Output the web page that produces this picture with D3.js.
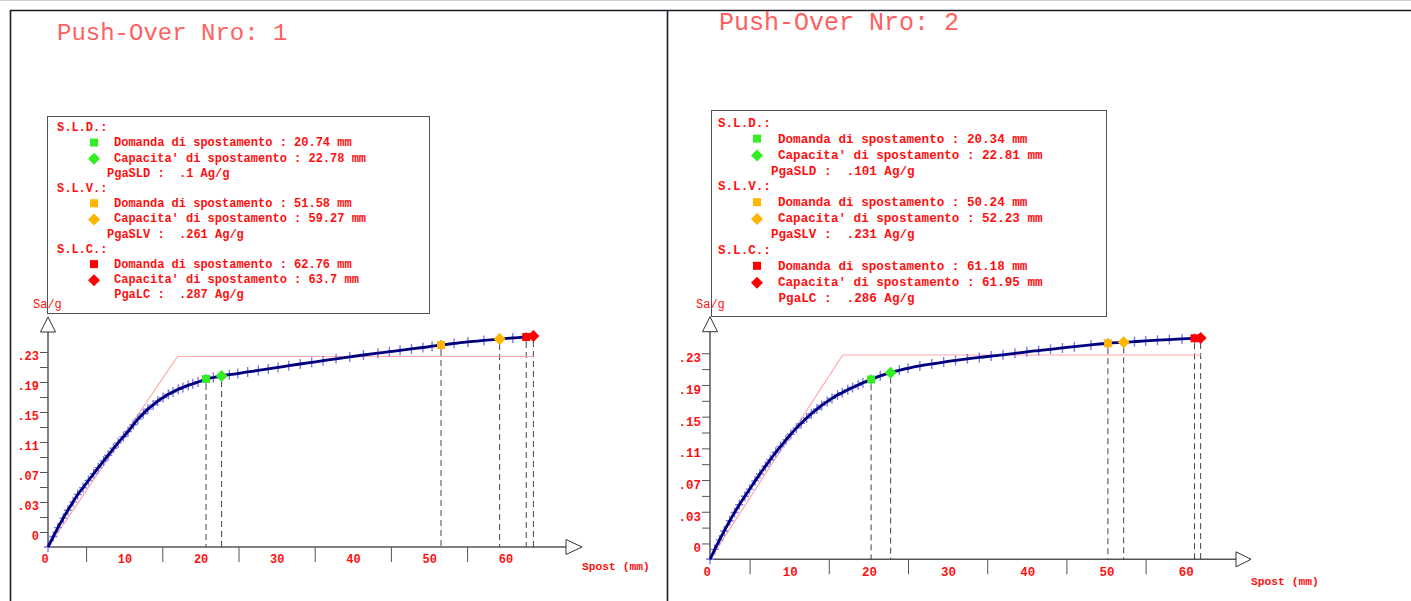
<!DOCTYPE html>
<html>
<head>
<meta charset="utf-8">
<script src="https://cdnjs.cloudflare.com/ajax/libs/d3/7.8.5/d3.min.js"></script>
<style>
body { margin: 0; background: #fff; }
svg text { font-family: "Liberation Mono", "DejaVu Sans Mono", monospace; white-space: pre; }
</style>
</head>
<body>
<script>
// ---- data ----
const titles = ["Push-Over Nro: 1", "Push-Over Nro: 2"];

// panel 1 curve (spostamento mm, Sa/g)
const spost1 = [0, 0.7, 1.3, 2.0, 2.6, 3.3, 3.9, 4.6, 5.3, 6.0, 6.6, 7.3, 7.9, 8.6, 9.2, 9.9, 10.5, 11.2, 11.8,
  12.5, 13.1, 13.8, 14.4, 15.1, 15.8, 16.4, 17.1, 17.7, 18.4, 19.0, 19.7, 20.74, 21.7, 22.78, 23.8, 24.9,
  26.2, 27.6, 28.9, 30.2, 31.6, 33.1, 34.6, 36.1, 37.8, 39.6, 41.4, 43.3, 44.8, 46.2, 47.7, 49.2, 50.4,
  51.58, 53.3, 55.1, 57.2, 59.27, 61.0, 62.76, 63.7];
const sa1 = [0, 0.0140, 0.0258, 0.0385, 0.0490, 0.0602, 0.0700, 0.0790, 0.0887, 0.0978, 0.1058, 0.1147,
  0.1224, 0.1316, 0.1388, 0.1470, 0.1540, 0.1630, 0.1705, 0.1777, 0.1838, 0.1895, 0.1945, 0.1992, 0.2036,
  0.2068, 0.2102, 0.2127, 0.2155, 0.2177, 0.2200, 0.2240, 0.2260, 0.2280, 0.2297, 0.2313, 0.2334, 0.2355,
  0.2375, 0.2395, 0.2417, 0.2440, 0.2462, 0.2484, 0.2509, 0.2535, 0.2560, 0.2585, 0.2604, 0.2622, 0.2641,
  0.2660, 0.2677, 0.2693, 0.2714, 0.2735, 0.2755, 0.2773, 0.2787, 0.2800, 0.2813];

// panel 2 curve
const spost2 = [0, 0.6, 1.2, 1.8, 2.5, 3.1, 3.7, 4.4, 5.0, 5.7, 6.3, 7.0, 7.6, 8.3, 8.9, 9.6, 10.2, 10.9,
  11.5, 12.2, 12.8, 13.5, 14.1, 14.8, 15.4, 16.1, 16.7, 17.4, 18.0, 18.7, 19.3, 20.34, 21.5, 22.81, 23.9,
  25.0, 26.5, 28.0, 29.5, 31.0, 32.5, 34.0, 35.5, 37.0, 38.5, 40.0, 41.5, 43.0, 44.5, 46.0, 48.1, 50.24,
  52.23, 53.6, 55.0, 56.5, 58.0, 59.6, 61.18, 61.95];
const sa2 = [0, 0.0125, 0.0245, 0.0358, 0.0487, 0.0590, 0.0688, 0.0796, 0.0885, 0.0990, 0.1077, 0.1175,
  0.1256, 0.1350, 0.1423, 0.1507, 0.1578, 0.1655, 0.1715, 0.1783, 0.1838, 0.1896, 0.1942, 0.1990, 0.2030,
  0.2073, 0.2103, 0.2140, 0.2168, 0.2200, 0.2227, 0.2270, 0.2315, 0.2355, 0.2385, 0.2410, 0.2440, 0.2465,
  0.2489, 0.2510, 0.2530, 0.2547, 0.2564, 0.2580, 0.2599, 0.2618, 0.2634, 0.2650, 0.2667, 0.2683, 0.2705,
  0.2726, 0.2738, 0.2747, 0.2756, 0.2765, 0.2773, 0.2781, 0.2789, 0.2792];

// equivalent bilinear
const bilinSpost1 = [0, 17.0, 63.7];
const bilinSa1 = [0, 0.254, 0.254];
const bilinSpost2 = [0, 16.75, 62.0];
const bilinSa2 = [0, 0.2578, 0.2578];

// limit states
const states = ["S.L.D.", "S.L.V.", "S.L.C."];
const pgaNames = ["PgaSLD", "PgaSLV", "PgaLC"];

const domanda1 = [20.74, 51.58, 62.76];
const domandaSa1 = [0.224, 0.2693, 0.2800];
const capacita1 = [22.78, 59.27, 63.7];
const capacitaSa1 = [0.228, 0.2773, 0.2813];
const pga1 = [".1", ".261", ".287"];

const domanda2 = [20.34, 50.24, 61.18];
const domandaSa2 = [0.227, 0.2726, 0.2789];
const capacita2 = [22.81, 52.23, 61.95];
const capacitaSa2 = [0.2355, 0.2738, 0.2792];
const pga2 = [".101", ".231", ".286"];

// axes
const xLabelTicks = [0, 10, 20, 30, 40, 50, 60];
const xMinorTicks = [5, 15, 25, 35, 45, 55];
const yTicks = [0.02, 0.04, 0.06, 0.08, 0.10, 0.12, 0.14, 0.16, 0.18, 0.20, 0.22, 0.24, 0.26];
const yLabelTicks = [0.02, 0.06, 0.10, 0.14, 0.18, 0.22, 0.26];
const yLabels = ["0", ".03", ".07", ".11", ".15", ".19", ".23"];

// ---- styling / layout ----
const stateColors = ["#33ee22", "#ffb400", "#ff0000"];
const RED = "#ff1010";

const layout1 = {ox: 48, oy: 547, kx: 7.62, ky: 750, yTop: 332, yTip: 317, xEnd: 566, xTip: 582,
  titleX: 57, titleY: 40, titleSize: 24, box: [47, 116, 429, 313],
  legX0: 57, legMark: 94, legText: 114, legPga: 107, legY0: 127.3, legDy: 15.2, legFont: 12,
  saX: 33, saY: 308, spostX: 582, spostY: 570, tickFont: 12, xLabY: 563, yLabDy: 8};
const layout2 = {ox: 710, oy: 559.3, kx: 7.92, ky: 792.5, yTop: 331.7, yTip: 316.7, xEnd: 1236, xTip: 1251,
  titleX: 719, titleY: 30, titleSize: 25, box: [711, 110, 1106, 316],
  legX0: 718, legMark: 757, legText: 778, legPga: 771, legY0: 122.7, legDy: 15.9, legFont: 12.6,
  saX: 696, saY: 308, spostX: 1251, spostY: 585, tickFont: 12.5, xLabY: 576, yLabDy: 9};

const W = 1411, H = 601;
const svg = d3.select("body").append("svg").attr("width", W).attr("height", H);

// outer frames
svg.append("line").attr("x1", 0).attr("x2", W).attr("y1", 0.5).attr("y2", 0.5)
  .attr("stroke", "#d0d0d0");
svg.append("path")
  .attr("d", `M10.5,${H} L10.5,10.5 L${W},10.5 M667.5,10.5 L667.5,${H}`)
  .attr("fill", "none").attr("stroke", "#1c1c28").attr("stroke-width", 1.6);

function diamond(r) { return `M0,${-r}L${r},0L0,${r}L${-r},0Z`; }

function drawPanel(L, title, spost, sa, bSpost, bSa, dom, domSa, cap, capSa, pga) {
  const g = svg.append("g");
  const x = d3.scaleLinear().domain([0, 70]).range([L.ox, L.ox + 70 * L.kx]);
  const y = d3.scaleLinear().domain([0, 0.3]).range([L.oy, L.oy - 0.3 * L.ky]);

  // title
  g.append("text").attr("x", L.titleX).attr("y", L.titleY)
    .attr("font-size", L.titleSize).attr("fill", "#ff6060").text(title);

  // legend box
  const [bx0, by0, bx1, by1] = L.box;
  g.append("rect").attr("x", bx0 + 0.5).attr("y", by0 + 0.5)
    .attr("width", bx1 - bx0).attr("height", by1 - by0)
    .attr("fill", "none").attr("stroke", "#505050");

  states.forEach((s, i) => {
    const rowY = k => L.legY0 + (i * 4 + k) * L.legDy;
    const tx = (xx, k, str) => g.append("text").attr("x", xx).attr("y", rowY(k) + L.legFont * 0.33)
      .attr("font-size", L.legFont).attr("font-weight", "bold").attr("fill", RED).text(str);
    tx(L.legX0, 0, s + ":");
    g.append("rect").attr("x", L.legMark - 4).attr("y", rowY(1) - 4)
      .attr("width", 8).attr("height", 8).attr("fill", stateColors[i]);
    tx(L.legText, 1, "Domanda di spostamento : " + dom[i] + " mm");
    g.append("path").attr("transform", `translate(${L.legMark},${rowY(2) + 1})`)
      .attr("d", diamond(6)).attr("fill", stateColors[i]);
    tx(L.legText, 2, "Capacita' di spostamento : " + cap[i] + " mm");
    tx(L.legPga, 3, pgaNames[i].padStart(6) + " :  " + pga[i] + " Ag/g");
  });

  // axes
  const axisCol = "#555";
  g.append("g").attr("transform", `translate(0,${L.oy})`)
    .call(d3.axisBottom(x).tickValues(xMinorTicks).tickSize(15).tickSizeOuter(0).tickFormat(""))
    .call(a => a.select(".domain").remove())
    .call(a => a.selectAll("line").attr("stroke", axisCol));
  g.append("g").attr("transform", `translate(${L.ox},0)`)
    .call(d3.axisLeft(y).tickValues(yTicks).tickSize(8).tickSizeOuter(0).tickFormat(""))
    .call(a => a.select(".domain").remove())
    .call(a => a.selectAll("line").attr("stroke", axisCol));

  g.append("line").attr("x1", L.ox).attr("x2", L.xEnd).attr("y1", L.oy).attr("y2", L.oy)
    .attr("stroke", axisCol).attr("stroke-width", 1.5);
  g.append("line").attr("x1", L.ox).attr("x2", L.ox).attr("y1", L.oy).attr("y2", L.yTop)
    .attr("stroke", axisCol).attr("stroke-width", 1.5);
  g.append("path").attr("d", `M${L.xEnd},${L.oy - 7.5}L${L.xTip},${L.oy}L${L.xEnd},${L.oy + 7.5}Z`)
    .attr("fill", "#fff").attr("stroke", "#333");
  g.append("path").attr("d", `M${L.ox - 7.5},${L.yTop}L${L.ox},${L.yTip}L${L.ox + 7.5},${L.yTop}Z`)
    .attr("fill", "#fff").attr("stroke", "#333");

  g.selectAll(".xl").data(xLabelTicks).join("text")
    .attr("x", d => x(d) - 6.5).attr("y", L.xLabY)
    .attr("font-size", L.tickFont).attr("font-weight", "bold").attr("fill", RED).text(d => d);
  g.selectAll(".yl").data(yLabelTicks).join("text")
    .attr("x", L.ox - 9).attr("y", d => y(d) + L.yLabDy).attr("text-anchor", "end")
    .attr("font-size", L.tickFont).attr("font-weight", "bold").attr("fill", RED)
    .text((d, i) => yLabels[i]);

  g.append("text").attr("x", L.saX).attr("y", L.saY).attr("font-size", 12).attr("fill", RED).text("Sa/g");
  g.append("text").attr("x", L.spostX).attr("y", L.spostY).attr("font-size", 11.3)
    .attr("font-weight", "bold").attr("fill", RED).text("Spost (mm)");

  // dashed verticals at demand / capacity
  const marks = [];
  states.forEach((s, i) => {
    marks.push({v: dom[i], s: domSa[i], c: stateColors[i], t: "sq"});
    marks.push({v: cap[i], s: capSa[i], c: stateColors[i], t: "di"});
  });
  g.selectAll(".dash").data(marks).join("line")
    .attr("x1", d => x(d.v)).attr("x2", d => x(d.v))
    .attr("y1", d => y(d.s) + 5).attr("y2", L.oy)
    .attr("stroke", "#444").attr("stroke-dasharray", "6,4");

  // bilinear
  g.append("path").datum(d3.zip(bSpost, bSa))
    .attr("d", d3.line().x(d => x(d[0])).y(d => y(d[1])))
    .attr("fill", "none").attr("stroke", "#ffa8a8").attr("stroke-width", 1.2);

  // step crosses + curve
  const pts = d3.zip(spost, sa);
  g.selectAll(".cr").data(pts).join("path")
    .attr("transform", d => `translate(${x(d[0])},${y(d[1])})`)
    .attr("d", "M-4,0H4M0,-5V5").attr("stroke", "#7f7be6").attr("stroke-width", 1.4);
  g.append("path").datum(pts)
    .attr("d", d3.line().x(d => x(d[0])).y(d => y(d[1])).curve(d3.curveMonotoneX))
    .attr("fill", "none").attr("stroke", "#00007e").attr("stroke-width", 2.8);

  // markers
  g.selectAll(".mk").data(marks).join("path")
    .attr("transform", d => `translate(${x(d.v)},${y(d.s)})`)
    .attr("d", d => d.t === "sq" ? "M-4,-4H4V4H-4Z" : diamond(6))
    .attr("fill", d => d.c);
}

drawPanel(layout1, titles[0], spost1, sa1, bilinSpost1, bilinSa1, domanda1, domandaSa1, capacita1, capacitaSa1, pga1);
drawPanel(layout2, titles[1], spost2, sa2, bilinSpost2, bilinSa2, domanda2, domandaSa2, capacita2, capacitaSa2, pga2);
</script>
</body>
</html>
